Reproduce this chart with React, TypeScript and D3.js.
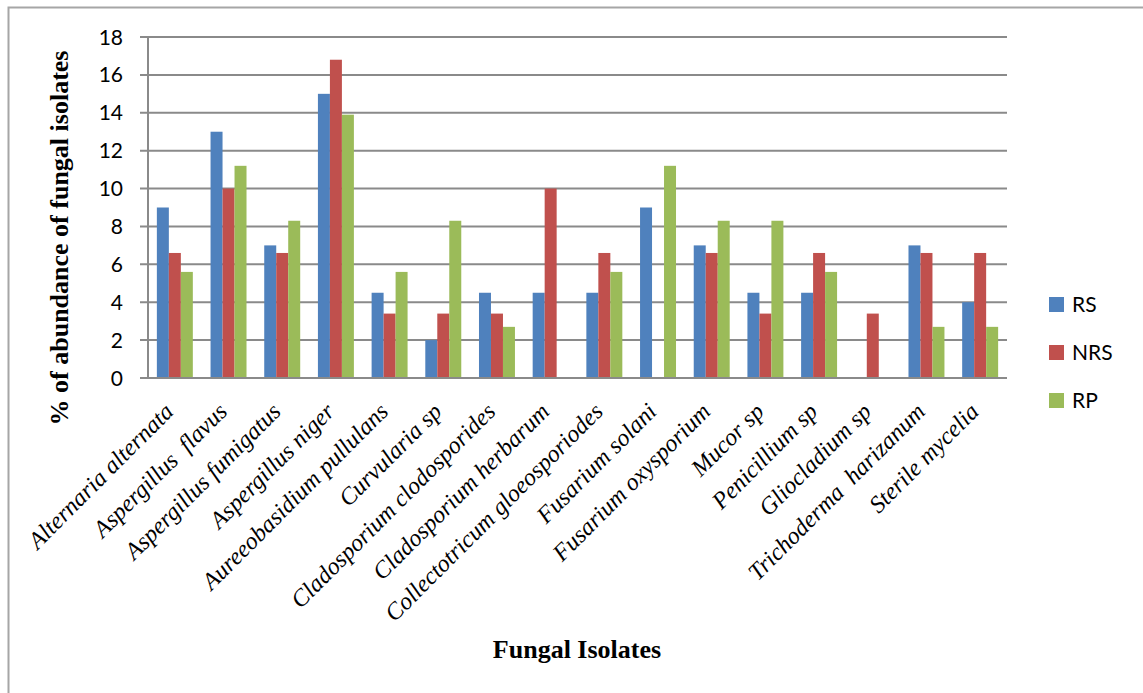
import React, { useEffect, useRef } from "react";
import * as d3 from "d3";

// Fungal isolate categories (x axis)
const categories = [
  "Alternaria alternata",
  "Aspergillus  flavus",
  "Aspergillus fumigatus",
  "Aspergillus niger",
  "Aureeobasidium pullulans",
  "Curvularia sp",
  "Cladosporium clodosporides",
  "Cladosporium herbarum",
  "Collectotricum gloeosporiodes",
  "Fusarium solani",
  "Fusarium oxysporium",
  "Mucor sp",
  "Penicillium sp",
  "Gliocladium sp",
  "Trichoderma  harizanum",
  "Sterile mycelia",
];

const seriesNames = ["RS", "NRS", "RP"];
const seriesColors = ["#4F81BD", "#C0504D", "#9BBB59"];

// % abundance per series
const rsValues = [9, 13, 7, 15, 4.5, 2, 4.5, 4.5, 4.5, 9, 7, 4.5, 4.5, 0, 7, 4];
const nrsValues = [6.6, 10, 6.6, 16.8, 3.4, 3.4, 3.4, 10, 6.6, 0, 6.6, 3.4, 6.6, 3.4, 6.6, 6.6];
const rpValues = [5.6, 11.2, 8.3, 13.9, 5.6, 8.3, 2.7, 0, 5.6, 11.2, 8.3, 8.3, 5.6, 0, 2.7, 2.7];

const yTicks = [0, 2, 4, 6, 8, 10, 12, 14, 16, 18];

const W = 1143;
const H = 693;
const plot = { left: 148, right: 1007, top: 37, bottom: 378 };

export default function App() {
  const ref = useRef<SVGSVGElement | null>(null);

  useEffect(() => {
    const svg = d3.select(ref.current);
    svg.selectAll("*").remove();

    const allSeries = [rsValues, nrsValues, rpValues];

    const x0 = d3
      .scaleBand<string>()
      .domain(categories)
      .range([plot.left, plot.right])
      .paddingInner(0.33)
      .paddingOuter(0.165);
    const x1 = d3
      .scaleBand<string>()
      .domain(seriesNames)
      .range([0, x0.bandwidth()]);
    const y = d3.scaleLinear().domain([0, 18]).range([plot.bottom, plot.top]);

    // outer frame
    svg
      .append("rect")
      .attr("x", 8.5)
      .attr("y", 7.5)
      .attr("width", W + 20)
      .attr("height", H + 20)
      .attr("fill", "none")
      .attr("stroke", "#a6a6a6")
      .attr("stroke-width", 2);

    // gridlines and ticks
    const grid = svg.append("g");
    yTicks.forEach((t) => {
      grid
        .append("line")
        .attr("x1", plot.left - 8)
        .attr("x2", plot.right)
        .attr("y1", y(t))
        .attr("y2", y(t))
        .attr("stroke", "#8a8a8a")
        .attr("stroke-width", 2);
      grid
        .append("text")
        .attr("x", 123)
        .attr("y", y(t))
        .attr("dy", "0.36em")
        .attr("text-anchor", "end")
        .attr("font-family", "Lato, 'Open Sans', sans-serif")
        .attr("font-size", 21)
        .attr("fill", "#000")
        .text(String(t));
    });

    // y axis line
    svg
      .append("line")
      .attr("x1", plot.left)
      .attr("x2", plot.left)
      .attr("y1", plot.top)
      .attr("y2", plot.bottom)
      .attr("stroke", "#8a8a8a")
      .attr("stroke-width", 2);

    // bars
    const bars = svg.append("g");
    categories.forEach((c, i) => {
      allSeries.forEach((vals, s) => {
        const v = vals[i];
        if (v <= 0) return;
        bars
          .append("rect")
          .attr("x", (x0(c) ?? 0) + (x1(seriesNames[s]) ?? 0))
          .attr("y", y(v))
          .attr("width", x1.bandwidth())
          .attr("height", y(0) - y(v))
          .attr("fill", seriesColors[s]);
      });
    });

    // x axis line
    svg
      .append("line")
      .attr("x1", plot.left)
      .attr("x2", plot.right)
      .attr("y1", plot.bottom)
      .attr("y2", plot.bottom)
      .attr("stroke", "#8a8a8a")
      .attr("stroke-width", 2);

    // category labels
    categories.forEach((c) => {
      const cx = (x0(c) ?? 0) + x0.bandwidth() / 2;
      const cy = 413;
      svg
        .append("text")
        .attr("transform", `translate(${cx},${cy}) rotate(-45)`)
        .attr("text-anchor", "end")
        .attr("font-family", "'Liberation Serif', 'Times New Roman', serif")
        .attr("font-style", "italic")
        .attr("font-size", 24)
        .attr("fill", "#000")
        .attr("xml:space", "preserve")
        .style("white-space", "pre")
        .text(c);
    });

    // axis titles
    svg
      .append("text")
      .attr("transform", `translate(68,238) rotate(-90)`)
      .attr("text-anchor", "middle")
      .attr("font-family", "'Liberation Serif', 'Times New Roman', serif")
      .attr("font-weight", "bold")
      .attr("font-size", 26)
      .attr("fill", "#000")
      .text("% of abundance of fungal isolates");

    svg
      .append("text")
      .attr("x", 577)
      .attr("y", 658)
      .attr("text-anchor", "middle")
      .attr("font-family", "'Liberation Serif', 'Times New Roman', serif")
      .attr("font-weight", "bold")
      .attr("font-size", 26)
      .attr("fill", "#000")
      .text("Fungal Isolates");

    // legend
    const legend = svg.append("g");
    seriesNames.forEach((n, i) => {
      const ly = 297 + i * 48;
      legend
        .append("rect")
        .attr("x", 1049)
        .attr("y", ly)
        .attr("width", 15)
        .attr("height", 15)
        .attr("fill", seriesColors[i]);
      legend
        .append("text")
        .attr("x", 1072)
        .attr("y", ly + 15)
        .attr("font-family", "Lato, 'Open Sans', sans-serif")
        .attr("font-size", 21)
        .attr("fill", "#000")
        .text(n);
    });
  }, []);

  return (
    <svg
      ref={ref}
      width={W}
      height={H}
      style={{ position: "absolute", left: 0, top: 0, background: "#fff" }}
    />
  );
}
